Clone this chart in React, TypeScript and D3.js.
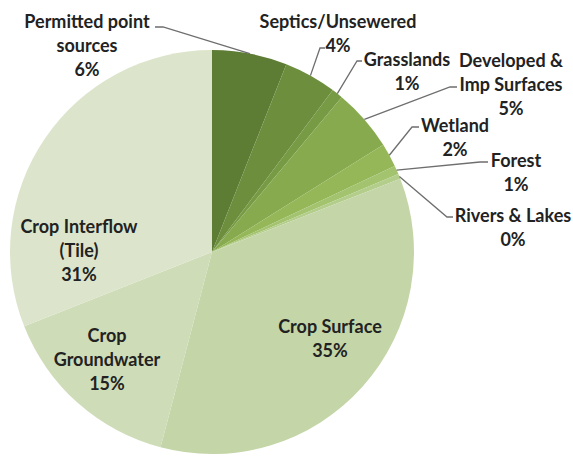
import React from "react";
import * as d3 from "d3";

const categories = [
  "Permitted point\nsources",
  "Septics/Unsewered",
  "Grasslands",
  "Developed &\nImp Surfaces",
  "Wetland",
  "Forest",
  "Rivers & Lakes",
  "Crop Surface",
  "Crop\nGroundwater",
  "Crop Interflow\n(Tile)",
];
const values = [6.0, 4.2, 0.9, 5.0, 1.9, 0.7, 0.4, 35.0, 14.9, 31.0];
const colors = [
  "#5e7d34", "#6c8e3d", "#779a44", "#87aa4e", "#95b758",
  "#a3c36e", "#b3cd8a", "#c4d6a8", "#cfdcb8", "#dce5cb",
];

// label layout: center x, first baseline y, leader start (x,y) & elbow x
type Lab = { x: number; y: number; lead?: [number, number, number] };
const labelLayout: Lab[] = [
  { x: 87, y: 28, lead: [155, 27, 163] },
  { x: 338, y: 28, lead: [325, 48, 320] },
  { x: 407, y: 66, lead: [362, 61, 357] },
  { x: 511, y: 67, lead: [457, 87, 450] },
  { x: 455, y: 132, lead: [419, 127, 412] },
  { x: 516, y: 167, lead: [488, 162, 480] },
  { x: 513, y: 222, lead: [453, 217, 447] },
  { x: 330, y: 333 },
  { x: 107, y: 342 },
  { x: 79, y: 233 },
];

const W = 573, H = 457;
const cx = 212, cy = 252, R = 202;
const LH = 24;

export default function App() {
  const total = d3.sum(values);
  const pie = d3.pie<number>().sort(null).value((d) => d)(values);
  const arc = d3.arc<d3.PieArcDatum<number>>().innerRadius(0).outerRadius(R);
  const edge = d3.arc<d3.PieArcDatum<number>>().innerRadius(R).outerRadius(R);
  const pct = d3.format(".0%");

  return (
    <svg width={W} height={H} style={{ position: "absolute", left: 0, top: 0, background: "#fff" }}>
      <g transform={`translate(${cx},${cy})`}>
        {pie.map((p, i) => (
          <path key={i} d={arc(p) || ""} fill={colors[i]} />
        ))}
      </g>
      {pie.map((p, i) => {
        const L = labelLayout[i];
        if (!L.lead) return null;
        const [ex, ey] = edge.centroid(p);
        const pts: [number, number][] = [[L.lead[0], L.lead[1]], [L.lead[2], L.lead[1]], [cx + ex, cy + ey]];
        return (
          <polyline key={"l" + i} points={pts.map((q) => q.join(",")).join(" ")}
            fill="none" stroke="#6e6e6e" strokeWidth={1.3} />
        );
      })}
      {pie.map((p, i) => {
        const L = labelLayout[i];
        const lines = [...categories[i].split("\n"), pct(values[i] / total)];
        return (
          <text key={"t" + i} x={L.x} y={L.y} textAnchor="middle"
            fontFamily="Lato, 'Open Sans', sans-serif" fontWeight={700} fontSize={18} fill="#222">
            {lines.map((s, j) => (
              <tspan key={j} x={L.x} y={L.y + j * LH}>{s}</tspan>
            ))}
          </text>
        );
      })}
    </svg>
  );
}
